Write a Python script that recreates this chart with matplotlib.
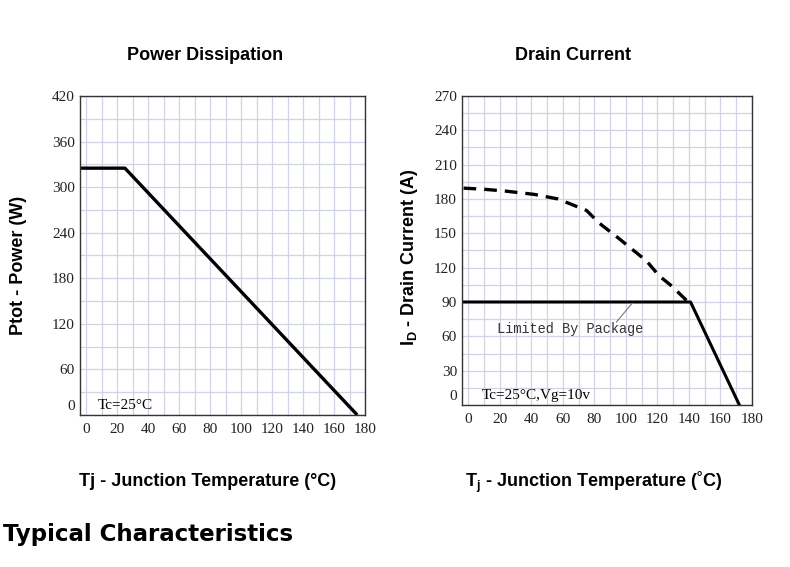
import matplotlib.pyplot as plt
import matplotlib.transforms as mtransforms

# power dissipation curve
tj_power = [-4, 25, 175]
ptot = [325, 325, 0]

# drain current, silicon limit (dashed)
tj_si = [-3, 10, 23, 42, 57, 66, 75, 83, 96, 104, 113, 121, 129, 138, 141]
id_si = [189.5, 188.5, 187, 184, 180, 175, 170, 159, 145, 136, 126, 113, 104, 92, 89]

# drain current, package limit (solid)
tj_pkg = [-4, 141, 172]
id_pkg = [90, 90, 0]

x_ticks = [0, 20, 40, 60, 80, 100, 120, 140, 160, 180]
p_ticks = [0, 60, 120, 180, 240, 300, 360, 420]
i_ticks = [0, 30, 60, 90, 120, 150, 180, 210, 240, 270]

grid_col = '#cfd3e4'
tick_font = 'Liberation Serif'

fig = plt.figure(figsize=(7.9, 5.67), dpi=100)
ax1 = fig.add_axes([80/790, 1-415/567, 285/790, 319/567])
ax2 = fig.add_axes([462/790, 1-405/567, 290/790, 309/567])


def style(ax, yticks, ystep, ymax):
    ax.set_xlim(-4, 180)
    ax.set_ylim(0, ymax)
    ax.set_xticks(x_ticks)
    ax.set_yticks(yticks)
    ax.set_xticks(range(0, 181, 10), minor=True)
    ax.set_yticks(range(0, ymax + 1, ystep), minor=True)
    ax.grid(True, which='both', color=grid_col, lw=0.9)
    ax.set_axisbelow(True)
    ax.tick_params(which='both', length=0)
    ax.tick_params(axis='x', pad=5.5)
    ax.tick_params(axis='y', pad=3.6)
    for lab in ax.get_xticklabels() + ax.get_yticklabels():
        lab.set_fontfamily(tick_font)
        lab.set_fontsize(11)
        lab.set_color('#222222')
    for s in ax.spines.values():
        s.set_color('#333333')
        s.set_linewidth(1.0)
    # the zero label sits a little above the axis bottom
    lab0 = ax.get_yticklabels()[0]
    lab0.set_transform(lab0.get_transform() +
                       mtransforms.ScaledTranslation(0, 7/72, fig.dpi_scale_trans))


style(ax1, p_ticks, 30, 420)
style(ax2, i_ticks, 15, 270)

ax1.plot(tj_power, ptot, color='black', lw=2.4, solid_capstyle='butt')
ax1.text(7.6, 12, 'Tc=25°C', family='Liberation Serif', fontsize=11, va='center')

ax2.plot(tj_si, id_si, color='black', lw=2.4, dashes=(3.8, 2.4))
ax2.plot(tj_pkg, id_pkg, color='black', lw=2.2)
ax2.plot([104, 94], [89, 72.5], color='#777777', lw=0.8)
ax2.text(18, 66.5, 'Limited By Package', family='Liberation Mono', fontsize=9.8,
         color='#333333', va='center')
ax2.text(8.7, 8.7, 'Tc=25°C,Vg=10v', family='Liberation Serif', fontsize=11, va='center')

bold = dict(family='Liberation Sans', weight='bold', ha='center', va='center')
fig.text(205/790, 1-55/567, 'Power Dissipation', fontsize=13, **bold)
fig.text(573/790, 1-55/567, 'Drain Current', fontsize=13, **bold)
fig.text(19/790, 1-265/567, 'Ptot - Power (W)', fontsize=13, rotation=90, **bold)
fig.text(409/790, 1-257/567, r'I$_\mathregular{D}$ - Drain Current (A)', fontsize=13,
         rotation=90, **bold)
fig.text(208/790, 1-482/567, 'Tj - Junction Temperature (°C)', fontsize=13, **bold)
fig.text(594/790, 1-482/567, r'T$_\mathregular{j}$ - Junction Temperature (˚C)',
         fontsize=13, **bold)
fig.text(3/790, 1-535/567, 'Typical Characteristics', fontsize=16.5,
         family='DejaVu Sans', weight='bold', ha='left', va='center')

fig.savefig('out.png', dpi=100)
